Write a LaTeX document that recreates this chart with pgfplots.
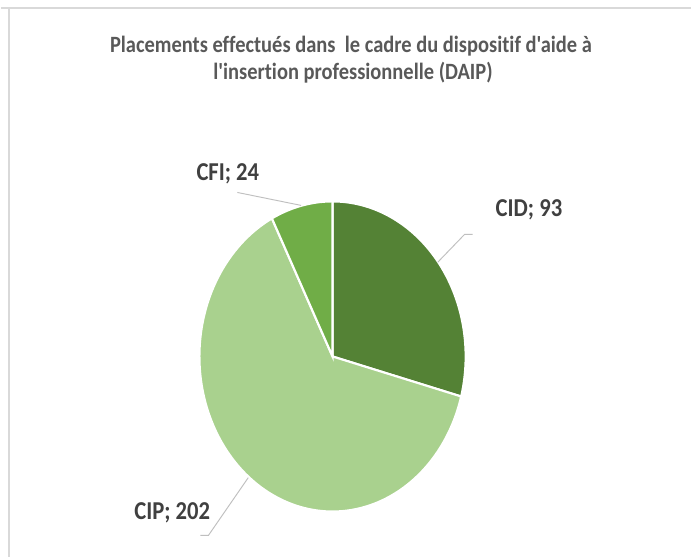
\documentclass[border=0pt]{standalone}
\usepackage{fontspec}
\setmainfont{Carlito}
\newfontfamily\carl{Carlito}[Ligatures=NoCommon]
\usepackage{graphicx}
\usepackage{pgfplots}
\pgfplotsset{compat=1.18}
\usepackage{xcolor}
\definecolor{cid}{HTML}{548235}
\definecolor{cip}{HTML}{A9D18E}
\definecolor{cfi}{HTML}{70AD47}
\definecolor{txt}{HTML}{404040}
\definecolor{ttl}{HTML}{595959}
\definecolor{frame}{HTML}{D9D9D9}
\definecolor{lead}{HTML}{BFBFBF}

% values
\def\vCID{93}
\def\vCIP{202}
\def\vCFI{24}
% pie geometry in image pixels (ellipse, picture is stretched vertically)
\def\cx{332.5}
\def\cy{357.5}
\def\rx{133.5}
\def\ry{155.5}
\pgfmathsetmacro\tot{\vCID+\vCIP+\vCFI}
\pgfmathsetmacro\aA{90}
\pgfmathsetmacro\aB{\aA-\vCID/\tot*360}
\pgfmathsetmacro\aC{\aB-\vCIP/\tot*360}
\pgfmathsetmacro\aD{\aC-\vCFI/\tot*360}

\newcommand{\lab}[1]{\scalebox{1}[1.14]{\carl\fontsize{17}{20}\selectfont\bfseries #1}}
\newcommand{\ttlline}[1]{\scalebox{1}[1.14]{\carl\fontsize{15.4}{18}\selectfont\bfseries #1}}

\begin{document}
\begin{tikzpicture}
\begin{axis}[
  width=519pt, height=419.25pt, scale only axis, hide axis,
  xmin=0, xmax=692, ymin=0, ymax=559, y dir=reverse,
  clip=false]
\fill[white] (0,0) rectangle (692,559);
\draw[frame, line width=1.5pt] (0,8.5) -- (692,8.5);
\draw[frame, line width=1.5pt] (8.5,8.5) -- (8.5,559);

\addplot[fill=cid, draw=white, line width=1.6pt, domain=\aB:\aA, samples=90, variable=\t]
  ({\cx+\rx*cos(\t)}, {\cy-\ry*sin(\t)}) -- (\cx,\cy) -- cycle;
\addplot[fill=cip, draw=white, line width=1.6pt, domain=\aC:\aB, samples=150, variable=\t]
  ({\cx+\rx*cos(\t)}, {\cy-\ry*sin(\t)}) -- (\cx,\cy) -- cycle;
\addplot[fill=cfi, draw=white, line width=1.6pt, domain=\aD:\aC, samples=40, variable=\t]
  ({\cx+\rx*cos(\t)}, {\cy-\ry*sin(\t)}) -- (\cx,\cy) -- cycle;

% leader lines
\draw[lead, line width=0.7pt] (438,263) -- (465,235) -- (473,235);
\draw[lead, line width=0.7pt] (248,479) -- (208,537) -- (200,537);
\draw[lead, line width=0.7pt] (301,206) -- (237,193);

% labels
\node[anchor=base, text=txt, inner sep=0pt] at (529.5,217.3) {\lab{CID; 93}};
\node[anchor=base, text=txt, inner sep=0pt] at (171.7,520.7) {\lab{CIP; 202}};
\node[anchor=base, text=txt, inner sep=0pt] at (227.5,180.7) {\lab{CFI; 24}};

% title
\node[anchor=base, text=ttl, inner sep=0pt] at (351,52.3) {\ttlline{Placements effectués dans\ \ le cadre du dispositif d'aide à}};
\node[anchor=base, text=ttl, inner sep=0pt] at (353,80) {\ttlline{l'insertion professionnelle (DAIP)}};
\end{axis}
\end{tikzpicture}
\end{document}
